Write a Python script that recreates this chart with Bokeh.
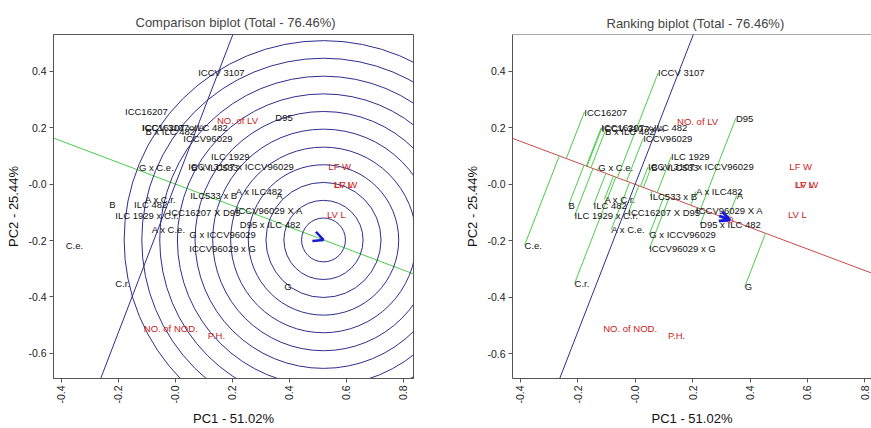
import math
import numpy as np
from bokeh.plotting import figure
from bokeh.layouts import row
from bokeh.models import Range1d, Arrow, OpenHead, FixedTicker, Span
from bokeh.core.properties import value
from bokeh.embed import file_html
from bokeh.resources import INLINE

# ---------------- data ----------------
geno_names = ["ICCV 3107", "ICC16207", "D95",
              "ICC16207 x ILC 482", "ICCV 3107 x A", "B x ILC 482",
              "ICCV96029", "ILC 1929", "G x C.e.",
              "ICCV 3107 x ICCV96029", "B x ILC533",
              "A x ILC482", "A", "ILC533 x B", "A x C.r.", "ILC 482", "B",
              "C.e.", "ILC 1929 x C.r.", "ICC16207 X D95", "ICCV96029 X A",
              "D95 x ILC 482", "A x C.e.", "G x ICCV96029", "ICCV96029 x G",
              "C.r.", "G"]
geno_pc1 = [0.080, -0.177, 0.351,
            -0.118, -0.116, -0.105,
            0.028, 0.125, -0.128,
            0.045, 0.056,
            0.212, 0.354, 0.052, -0.107, -0.145, -0.232,
            -0.385, -0.211, -0.024, 0.212,
            0.226, -0.083, 0.049, 0.049,
            -0.211, 0.382]
geno_pc2 = [0.395, 0.256, 0.235,
            0.201, 0.199, 0.187,
            0.163, 0.097, 0.058,
            0.062, 0.060,
            -0.025, -0.039, -0.042, -0.053, -0.074, -0.074,
            -0.216, -0.112, -0.101, -0.094,
            -0.143, -0.160, -0.178, -0.229,
            -0.351, -0.362]

trait_names = ["NO. of LV", "LF W", "LF L", "LV W", "LV L", "NO. of NOD.", "P.H."]
trait_pc1 = [0.146, 0.537, 0.556, 0.559, 0.532, -0.111, 0.114]
trait_pc2 = [0.224, 0.062, 0.000, -0.002, -0.108, -0.512, -0.535]

mean_env = [0.330, -0.126]      # average-environment coordinate
ideal_point = [0.520, -0.198]   # ideal genotype
circle_radii = [0.077, 0.139, 0.202, 0.264, 0.326, 0.389, 0.451, 0.513,
                0.575, 0.638, 0.700]

tick_values = [-0.6, -0.4, -0.2, 0.0, 0.2, 0.4, 0.6, 0.8]
tick_labels = ["-0.6", "-0.4", "-0.2", "-0.0", "0.2", "0.4", "0.6", "0.8"]

title_left = "Comparison biplot (Total - 76.46%)"
title_right = "Ranking biplot (Total - 76.46%)"
xlab = "PC1 - 51.02%"
ylab = "PC2 - 25.44%"

FONT = "Liberation Sans"
GREEN = "#4ccc4c"
NAVY = "#2e2e8c"
RED_LINE = "#cc4a4a"
RED_TXT = "#cc2020"
ARROW = "#1a1ad6"
FRAME = "#555555"


def style(p, title_offset=0, standoff=9):
    p.title.text_font = FONT
    p.title.text_font_size = "13px"
    p.title.text_font_style = "normal"
    p.title.align = "left"
    p.title.offset = title_offset
    p.title.standoff = standoff
    p.xgrid.visible = False
    p.ygrid.visible = False
    p.background_fill_color = "white"
    p.border_fill_color = "white"
    for ax in (p.xaxis[0], p.yaxis[0]):
        ax.ticker = FixedTicker(ticks=tick_values)
        ax.major_label_overrides = dict(zip(tick_values, tick_labels))
        ax.minor_tick_line_color = None
        ax.major_tick_out = 4
        ax.major_tick_in = 0
        ax.major_tick_line_color = FRAME
        ax.axis_line_color = FRAME
        ax.major_label_text_font = FONT
        ax.major_label_text_font_size = "10.5px"
        ax.major_label_text_color = "#222222"
        ax.axis_label_text_font = FONT
        ax.axis_label_text_font_size = "13px"
        ax.axis_label_text_font_style = "normal"
        ax.axis_label_text_color = "#111111"
        ax.major_label_standoff = 3
        ax.axis_label_standoff = 4
    p.xaxis[0].axis_label = xlab
    p.yaxis[0].axis_label = ylab
    p.xaxis[0].major_label_orientation = math.pi / 2


def full_line(p, direction, color, width=1.0):
    d = np.array(direction, dtype=float)
    d = d / np.hypot(*d)
    p.line([-3 * d[0], 3 * d[0]], [-3 * d[1], 3 * d[1]], line_color=color, line_width=width)


def labels(p):
    p.text(geno_pc1, geno_pc2, text=geno_names, text_align="left", text_baseline="middle",
           text_font=value(FONT), text_font_size="9.5px", text_color="#111111")
    p.text(trait_pc1, trait_pc2, text=trait_names, text_align="left", text_baseline="middle",
           text_font=value(FONT), text_font_size="9.5px", text_color=RED_TXT)


# ---------------- Comparison biplot ----------------
p1 = figure(width=462, height=428, output_backend="svg", toolbar_location=None,
            x_range=Range1d(-0.428, 0.836), y_range=Range1d(-0.689, 0.530),
            min_border_left=53, min_border_right=49, min_border_top=34, min_border_bottom=48,
            title=title_left)
style(p1, 82, 9)
p1.outline_line_color = FRAME

ax_dir = np.array(ideal_point) / np.hypot(*ideal_point)
full_line(p1, ax_dir, GREEN)
full_line(p1, [-ax_dir[1], ax_dir[0]], NAVY)
p1.circle(x=[ideal_point[0]] * len(circle_radii), y=[ideal_point[1]] * len(circle_radii),
          radius=circle_radii, fill_color=None, line_color=NAVY, line_width=1)
labels(p1)
p1.add_layout(Arrow(end=OpenHead(size=10, line_color=ARROW, line_width=2.5),
                    x_start=ideal_point[0] - 0.02 * ax_dir[0], y_start=ideal_point[1] - 0.02 * ax_dir[1],
                    x_end=ideal_point[0], y_end=ideal_point[1], line_color=ARROW, line_width=0.1, line_alpha=0))

# ---------------- Ranking biplot ----------------
p2 = figure(width=409, height=428, output_backend="svg", toolbar_location=None,
            x_range=Range1d(-0.427, 0.823), y_range=Range1d(-0.688, 0.531),
            min_border_left=49, min_border_right=0, min_border_top=28, min_border_bottom=49,
            title=title_right)
style(p2, 94, 7)
p2.outline_line_color = None
p2.add_layout(Span(location=0.531, dimension="width", line_color=FRAME, line_width=1))

me_dir = np.array(mean_env) / np.hypot(*mean_env)
full_line(p2, me_dir, RED_LINE)
full_line(p2, [-me_dir[1], me_dir[0]], NAVY)
gx = np.array(geno_pc1)
gy = np.array(geno_pc2)
proj = gx * me_dir[0] + gy * me_dir[1]
p2.segment(x0=gx, y0=gy, x1=proj * me_dir[0], y1=proj * me_dir[1], line_color=GREEN, line_width=1)
labels(p2)
p2.add_layout(Arrow(end=OpenHead(size=10, line_color=ARROW, line_width=3),
                    x_start=mean_env[0] - 0.04 * me_dir[0], y_start=mean_env[1] - 0.04 * me_dir[1],
                    x_end=mean_env[0], y_end=mean_env[1], line_color=ARROW, line_width=3))
p2.scatter([mean_env[0]], [mean_env[1]], size=6, fill_color=None, line_color=RED_LINE)

layout = row(p1, p2)
open("out.html", "w").write(file_html(layout, INLINE))
